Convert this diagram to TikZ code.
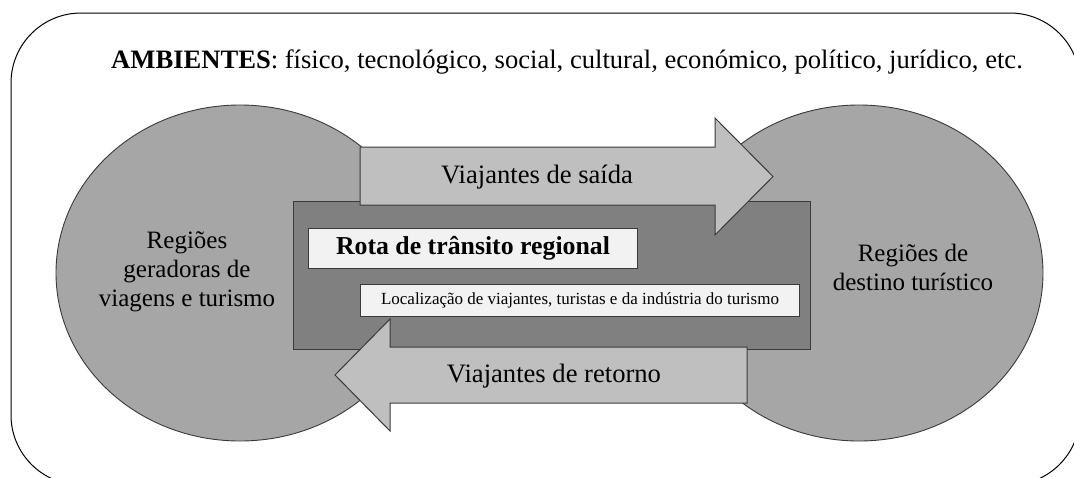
\documentclass[tikz,border=0pt]{standalone}
\usepackage{fontspec}
\setmainfont{Liberation Serif}
\usetikzlibrary{shapes.geometric}
\definecolor{regiongray}{HTML}{A6A6A6}
\definecolor{arrowgray}{HTML}{BFBFBF}
\definecolor{routegray}{HTML}{808080}
\definecolor{boxgray}{HTML}{F2F2F2}
\definecolor{edgegray}{HTML}{3A3A3A}
\begin{document}
\begin{tikzpicture}[x=1pt,y=-1pt,
  region/.style={ellipse, draw=edgegray, fill=regiongray, line width=0.9pt,
    minimum width=368pt, minimum height=336pt, inner sep=0pt},
  regiontext/.style={align=center, font=\fontsize{25}{29}\selectfont},
  routebox/.style={draw=edgegray, fill=routegray, line width=1pt, inner sep=0pt,
    anchor=north west},
  flowarrow/.style={draw=edgegray, fill=arrowgray, line width=1pt},
  flowtext/.style={font=\fontsize{26.6}{30}\selectfont},
  labelbox/.style={draw=edgegray, fill=boxgray, line width=1pt, inner sep=0pt,
    anchor=north west},
]
\useasboundingbox (0,0) rectangle (1074,477);
\clip (0,0) rectangle (1074,477);
% outer frame
\draw[line width=1pt, rounded corners=70pt] (11,13) rectangle (1080,485);
\node[font=\fontsize{26.6}{30}\selectfont] (env) at (567,62)
  {\textbf{AMBIENTES}: físico, tecnológico, social, cultural, económico, político, jurídico, etc.};
% regions
\node[region] (origin) at (240,273) {};
\node[region] (dest) at (859,273) {};
\node[regiontext] (origintext) at (187,272) {Regiões\\geradoras de\\viagens e turismo};
\node[regiontext] (desttext) at (913,267) {Regiões de\\destino turístico};
% transit route
\node[routebox, minimum width=517pt, minimum height=148pt] (route) at (293,201) {};
% outbound arrow
\coordinate (outtip) at (773,176.5);
\draw[flowarrow] (360,147) -- (715,147) -- (715,118) -- (outtip) -- (715,235)
  -- (715,205) -- (360,205) -- cycle;
\node[flowtext] (outlabel) at (537,177) {Viajantes de saída};
% return arrow
\coordinate (rettip) at (335,375);
\draw[flowarrow] (747,347) -- (390,347) -- (390,319) -- (rettip) -- (390,431)
  -- (390,403) -- (747,403) -- cycle;
\node[flowtext] (retlabel) at (554,376) {Viajantes de retorno};
% label boxes
\node[labelbox, minimum width=329pt, minimum height=40pt] (rota) at (308,228) {};
\node[font=\fontsize{25.8}{30}\selectfont\bfseries] (rotatext) at (rota.center) {Rota de trânsito regional};
\node[labelbox, minimum width=439pt, minimum height=32pt] (loc) at (360,284) {};
\node[font=\fontsize{17}{20}\selectfont] (loctext) at (loc.center)
  {Localização de viajantes, turistas e da indústria do turismo};
\end{tikzpicture}
\end{document}
